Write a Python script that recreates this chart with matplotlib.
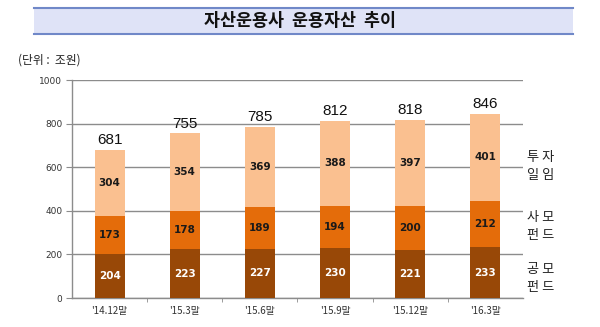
import numpy as np
import matplotlib.pyplot as plt
from matplotlib.patches import Rectangle

plt.rcParams['font.family'] = ['Noto Sans CJK KR', 'DejaVu Sans']

# 자산운용사 운용자산 (단위: 조원)
periods = ["'14.12말", "'15.3말", "'15.6말", "'15.9말", "'15.12말", "'16.3말"]
public_fund = [204, 223, 227, 230, 221, 233]
private_fund = [173, 178, 189, 194, 200, 212]
discretionary = [304, 354, 369, 388, 397, 401]
totals = [681, 755, 785, 812, 818, 846]

c_public = '#984807'
c_private = '#e46c0a'
c_disc = '#fac090'
grid_c = '#8c8c8c'

fig = plt.figure(figsize=(6, 3.27), dpi=100)

# title banner
fig.patches.append(Rectangle((34 / 600, 1 - 34 / 327), 539 / 600, 26 / 327,
                             transform=fig.transFigure, facecolor='#dfe3f7',
                             edgecolor='none', zorder=0))
for yy in (8, 34):
    fig.add_artist(plt.Line2D([34 / 600, 573 / 600], [1 - yy / 327] * 2,
                              transform=fig.transFigure, color='#7088c8', lw=1.5))
fig.text(0.5, 1 - 21 / 327, '자산운용사  운용자산  추이', ha='center', va='center',
         fontsize=12.5, fontweight='bold', color='#111111')
fig.text(18 / 600, 1 - 60 / 327, '(단위 :  조원)', ha='left', va='center',
         fontsize=8.5, color='#222222')

ax = fig.add_axes([72 / 600, 1 - 298 / 327, 451 / 600, 218 / 327])
x = np.arange(len(periods))
w = 0.4
pub = np.array(public_fund)
pri = np.array(private_fund)
dis = np.array(discretionary)

ax.bar(x, pub, w, color=c_public, zorder=3)
ax.bar(x, pri, w, bottom=pub, color=c_private, zorder=3)
ax.bar(x, dis, w, bottom=pub + pri, color=c_disc, zorder=3)

for i in range(len(x)):
    ax.text(x[i], pub[i] / 2, str(public_fund[i]), ha='center', va='center',
            fontsize=7.5, fontweight='bold', color='white', family='DejaVu Sans', zorder=4)
    ax.text(x[i], pub[i] + pri[i] / 2, str(private_fund[i]), ha='center', va='center',
            fontsize=7.5, fontweight='bold', color='#1a1a1a', family='DejaVu Sans', zorder=4)
    ax.text(x[i], pub[i] + pri[i] + dis[i] / 2, str(discretionary[i]), ha='center',
            va='center', fontsize=7.5, fontweight='bold', color='#1a1a1a',
            family='DejaVu Sans', zorder=4)
    ax.text(x[i], totals[i] + 12, str(totals[i]), ha='center', va='bottom',
            fontsize=11, color='#111111', family='Liberation Sans', zorder=4)

ax.set_xlim(-0.5, len(x) - 0.5)
ax.set_ylim(0, 1000)
ax.set_yticks(range(0, 1001, 200))
ax.set_yticklabels([str(v) for v in range(0, 1001, 200)], fontsize=6.5,
                   color='#333333', family='DejaVu Sans')
ax.set_xticks(x)
ax.set_xticklabels(periods, fontsize=7, color='#333333')
ax.set_xticks(np.arange(0.5, len(x) - 0.5, 1), minor=True)
ax.tick_params(axis='x', which='major', length=0, pad=6)
ax.tick_params(axis='x', which='minor', length=3, color=grid_c, direction='out')
ax.tick_params(axis='y', length=4, color=grid_c, pad=3)
ax.yaxis.grid(True, color=grid_c, lw=1, zorder=0)
ax.set_axisbelow(True)
for s in ('top', 'right'):
    ax.spines[s].set_visible(False)
for s in ('left', 'bottom'):
    ax.spines[s].set_color(grid_c)
    ax.spines[s].set_linewidth(1)

# series names to the right of the bars
for label, yy in (('투 자\n일 임', 166), ('사 모\n펀 드', 226), ('공 모\n펀 드', 279)):
    fig.text(541 / 600, 1 - yy / 327, label, ha='center', va='center',
             fontsize=9.5, color='#222222', linespacing=1.5)

fig.savefig('out.png', dpi=100)
